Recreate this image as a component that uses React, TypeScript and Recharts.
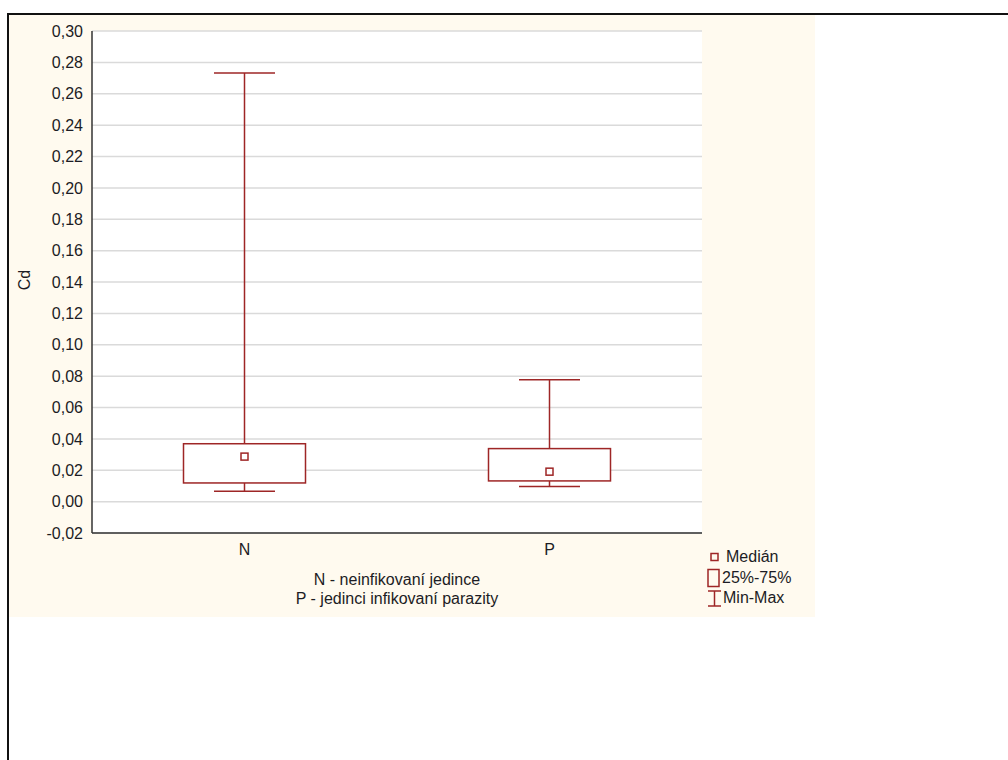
import React from 'react';
import {
  ComposedChart, Bar, XAxis, YAxis, CartesianGrid,
} from 'recharts';

// ── data ─────────────────────────────────────────────────────
const categories = ['N', 'P'];
const minVals = [0.0066, 0.0096];
const q1Vals = [0.0119, 0.0132];
const medianVals = [0.0287, 0.0191];
const q3Vals = [0.0369, 0.0338];
const maxVals = [0.2732, 0.0777];
const yTicks = [-0.02, 0, 0.02, 0.04, 0.06, 0.08, 0.1, 0.12, 0.14, 0.16, 0.18, 0.2, 0.22, 0.24, 0.26, 0.28, 0.3];
const xTitleLines = ['N - neinfikovaní jedince', 'P - jedinci infikovaní parazity'];
const yTitle = 'Cd';
const legendItems = ['Medián', '25%-75%', 'Min-Max'];

const data = categories.map((name, i) => ({
  name,
  range: [minVals[i], maxVals[i]],
  min: minVals[i], q1: q1Vals[i], median: medianVals[i], q3: q3Vals[i], max: maxVals[i],
}));

const RED = '#9e2626';
const AXIS = '#333';
const TXT = '#1c1c24';
const FONT = '"Liberation Sans", Arial, sans-serif';
const FS = 16;
const DOMAIN: [number, number] = [-0.02, 0.3];

const fmt = (v: number) => v.toFixed(2).replace('.', ',');

// ── box shape: range bar = min..max, rest interpolated on the same scale ──
function BoxShape(props: any) {
  const { x, y, width, height, payload } = props;
  if (x == null || y == null) return null;
  const { min, q1, median, q3, max } = payload;
  const k = height / (max - min);
  const yOf = (v: number) => y + (max - v) * k;
  const cx = x + width / 2;
  const cap = width / 4;
  return (
    <g stroke={RED} strokeWidth={1.5} fill="none">
      <line x1={cx} x2={cx} y1={yOf(max)} y2={yOf(q3)} />
      <line x1={cx} x2={cx} y1={yOf(q1)} y2={yOf(min)} />
      <line x1={cx - cap} x2={cx + cap} y1={yOf(max)} y2={yOf(max)} />
      <line x1={cx - cap} x2={cx + cap} y1={yOf(min)} y2={yOf(min)} />
      <rect x={x} y={yOf(q3)} width={width} height={yOf(q1) - yOf(q3)} fill="#fff" />
      <rect x={cx - 3.5} y={yOf(median) - 3.5} width={7} height={7} fill="#fff" />
    </g>
  );
}

function XTitle(props: any) {
  const { viewBox } = props;
  const cx = viewBox.x + viewBox.width / 2;
  return (
    <text textAnchor="middle" fontSize={FS} fill={TXT} fontFamily={FONT}>
      <tspan x={cx} y={viewBox.y + 52}>{xTitleLines[0]}</tspan>
      <tspan x={cx} y={viewBox.y + 71}>{xTitleLines[1]}</tspan>
    </text>
  );
}

function YTitle(props: any) {
  const { viewBox } = props;
  const x = viewBox.x + 21;
  const y = viewBox.y + viewBox.height / 2 - 2;
  return (
    <text x={x} y={y} transform={`rotate(-90, ${x}, ${y})`} textAnchor="middle"
      fontSize={FS} fill={TXT} fontFamily={FONT}>{yTitle}</text>
  );
}

function LegendBox() {
  const row: React.CSSProperties = { display: 'flex', alignItems: 'center', height: 20.5, fontSize: FS, color: TXT };
  return (
    <div style={{ position: 'absolute', left: 697, top: 532, fontFamily: FONT }}>
      <div style={row}>
        <svg width={20} height={20}><rect x={5} y={6.5} width={7} height={7} fill="none" stroke={RED} strokeWidth={1.5} /></svg>
        <span>{legendItems[0]}</span>
      </div>
      <div style={row}>
        <svg width={16} height={20}><rect x={2} y={1.5} width={11} height={17} fill="none" stroke={RED} strokeWidth={1.5} /></svg>
        <span>{legendItems[1]}</span>
      </div>
      <div style={row}>
        <svg width={17} height={20} stroke={RED} strokeWidth={1.5}>
          <line x1={2} x2={15} y1={3} y2={3} />
          <line x1={8.5} x2={8.5} y1={3} y2={18} />
          <line x1={2} x2={15} y1={18} y2={18} />
        </svg>
        <span>{legendItems[2]}</span>
      </div>
    </div>
  );
}

export default function App() {
  return (
    <div style={{
      position: 'absolute', left: 7, top: 13, width: 1001, height: 747,
      borderTop: '2px solid #111', borderLeft: '2px solid #111', boxSizing: 'border-box', background: '#fff',
    }}>
      <div style={{ position: 'relative', width: 806, height: 602, background: '#fffaef' }}>
        <ComposedChart
          width={806} height={602} data={data}
          margin={{ top: 16, right: 113, left: 0, bottom: 0 }}
          barCategoryGap="30%"
          style={{ fontFamily: FONT }}
        >
          <CartesianGrid xAxisId="b" yAxisId="l" vertical={false} stroke="#dadada" strokeWidth={1.5} fill="#fff" />
          <YAxis
            yAxisId="l" type="number" domain={DOMAIN} ticks={yTicks} interval={0}
            width={83} tickFormatter={fmt} tickLine={false} tickMargin={3}
            axisLine={{ stroke: AXIS, strokeWidth: 1.5 }}
            tick={{ fill: TXT, fontSize: FS }}
            label={<YTitle />}
          />
          <YAxis yAxisId="lIn" type="number" domain={DOMAIN} ticks={yTicks} interval={0} mirror
            tick={false} axisLine={false} tickSize={5} tickLine={{ stroke: AXIS, strokeWidth: 1.5 }} />
          <YAxis yAxisId="r" orientation="right" type="number" domain={DOMAIN} ticks={yTicks} interval={0} mirror
            width={0} tick={false} tickSize={5} tickLine={{ stroke: AXIS, strokeWidth: 1.5 }}
            axisLine={{ stroke: AXIS, strokeWidth: 1.5 }} />
          <XAxis
            xAxisId="b" dataKey="name" height={84} tickLine={false} tickMargin={5}
            axisLine={{ stroke: AXIS, strokeWidth: 1.5 }}
            tick={{ fill: TXT, fontSize: FS }}
            label={<XTitle />}
          />
          <XAxis xAxisId="bIn" dataKey="name" mirror tick={false} axisLine={false} tickSize={5}
            tickLine={{ stroke: AXIS, strokeWidth: 1.5 }} />
          <XAxis xAxisId="t" dataKey="name" orientation="top" mirror height={0} tick={false} tickSize={5}
            tickLine={{ stroke: AXIS, strokeWidth: 1.5 }} axisLine={{ stroke: AXIS, strokeWidth: 1.5 }} />
          <Bar xAxisId="b" yAxisId="l" dataKey="range" shape={<BoxShape />} isAnimationActive={false} />
        </ComposedChart>
        <LegendBox />
      </div>
    </div>
  );
}
